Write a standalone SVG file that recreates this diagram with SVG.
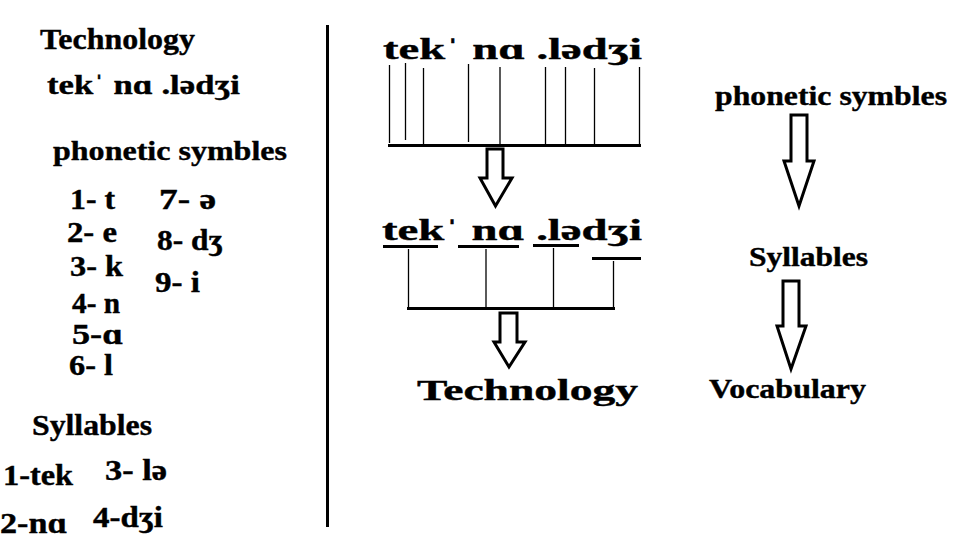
<svg xmlns="http://www.w3.org/2000/svg" width="956" height="556" viewBox="0 0 956 556" font-family="Liberation Serif, Times New Roman, Noto Serif, serif" font-weight="700">
<style>
text{fill:#000;stroke:#000;stroke-width:0.4;}
.t30{font-size:30px;}
.t28{font-size:28px;}
.t29{font-size:29px;}
.thin{stroke:#000;stroke-width:1.3;fill:none;}
.thick{stroke:#000;stroke-width:3;fill:none;}
.arrow{stroke:#000;stroke-width:3;fill:#fff;stroke-linejoin:miter;}
</style>
<rect width="956" height="556" fill="#fff"/>
<g id="left-panel">
<g id="left-title"><text class="t30" x="40" y="49" textLength="155" lengthAdjust="spacingAndGlyphs">Technology</text></g>
<g id="left-ipa"><text class="t28" x="47" y="94" textLength="193" lengthAdjust="spacingAndGlyphs">tekˈ nɑ .lədʒi</text></g>
<g id="left-phonetic"><text class="t28" x="53" y="160" textLength="234" lengthAdjust="spacingAndGlyphs">phonetic symbles</text></g>
<g id="left-list">
<text class="t29" x="70" y="209" textLength="45" lengthAdjust="spacingAndGlyphs">1- t</text>
<text class="t29" x="67" y="242" textLength="50" lengthAdjust="spacingAndGlyphs">2- e</text>
<text class="t29" x="70" y="276" textLength="53" lengthAdjust="spacingAndGlyphs">3- k</text>
<text class="t29" x="72" y="313" textLength="48" lengthAdjust="spacingAndGlyphs">4- n</text>
<text class="t29" x="72" y="344" textLength="51" lengthAdjust="spacingAndGlyphs">5-ɑ</text>
<text class="t29" x="69" y="375" textLength="44" lengthAdjust="spacingAndGlyphs">6- l</text>
<text class="t29" x="159" y="209" textLength="57" lengthAdjust="spacingAndGlyphs">7- ə</text>
<text class="t29" x="157" y="250" textLength="66" lengthAdjust="spacingAndGlyphs">8- dʒ</text>
<text class="t29" x="155" y="292" textLength="45" lengthAdjust="spacingAndGlyphs">9- i</text>
</g>
<g id="left-syllables"><text class="t30" x="32" y="435" textLength="120" lengthAdjust="spacingAndGlyphs">Syllables</text></g>
<g id="left-syllable-list">
<text class="t29" x="3" y="485" textLength="70" lengthAdjust="spacingAndGlyphs">1-tek</text>
<text class="t29" x="105" y="480" textLength="62" lengthAdjust="spacingAndGlyphs">3- lə</text>
<text class="t29" x="0" y="533" textLength="67" lengthAdjust="spacingAndGlyphs">2-nɑ</text>
<text class="t29" x="93" y="527" textLength="70" lengthAdjust="spacingAndGlyphs">4-dʒi</text>
</g>
</g>
<g id="divider"><line x1="327.5" y1="25" x2="327.5" y2="527" stroke="#000" stroke-width="3"/></g>
<g id="ipa-top"><text class="t30" x="383" y="59" textLength="259" lengthAdjust="spacingAndGlyphs">tekˈ nɑ .lədʒi</text></g>
<g id="ipa-syllables"><text class="t30" x="382" y="240" textLength="260" lengthAdjust="spacingAndGlyphs">tekˈ nɑ .lədʒi</text></g>
<g id="word"><text class="t30" x="417" y="400" textLength="221" lengthAdjust="spacingAndGlyphs">Technology</text></g>
<g id="flow-phonetic"><text class="t28" x="715" y="105" textLength="232" lengthAdjust="spacingAndGlyphs">phonetic symbles</text></g>
<g id="flow-syllables"><text class="t28" x="749" y="266" textLength="119" lengthAdjust="spacingAndGlyphs">Syllables</text></g>
<g id="flow-vocabulary"><text class="t28" x="709" y="398" textLength="157" lengthAdjust="spacingAndGlyphs">Vocabulary</text></g>
<g id="connectors">
<line class="thin" x1="389.5" y1="65" x2="389.5" y2="143"/>
<line class="thin" x1="405.5" y1="63" x2="405.5" y2="140"/>
<line class="thin" x1="423.5" y1="68" x2="423.5" y2="144"/>
<line class="thin" x1="468.5" y1="64" x2="468.5" y2="142"/>
<line class="thin" x1="500" y1="67" x2="500" y2="145"/>
<line class="thin" x1="545.5" y1="67" x2="545.5" y2="145"/>
<line class="thin" x1="565.5" y1="67" x2="565.5" y2="145"/>
<line class="thin" x1="594.5" y1="68" x2="594.5" y2="145"/>
<line class="thin" x1="639.5" y1="67" x2="639.5" y2="145"/>
<line class="thick" x1="388" y1="145.5" x2="641" y2="145.5"/>
<polygon class="arrow" points="487,149 503,149 503,178 512,178 495.5,206 480,178 487,178"/>
<line class="thick" x1="383" y1="246.5" x2="438" y2="246.5"/>
<line class="thick" x1="458" y1="246.5" x2="519" y2="246.5"/>
<line class="thick" x1="533" y1="245.5" x2="579" y2="245.5"/>
<line class="thick" x1="592" y1="258.5" x2="641" y2="258.5"/>
<line class="thin" x1="408.5" y1="249" x2="408.5" y2="308"/>
<line class="thin" x1="486" y1="249" x2="486" y2="308"/>
<line class="thin" x1="553.5" y1="248" x2="553.5" y2="308"/>
<line class="thin" x1="613.5" y1="261" x2="613.5" y2="308"/>
<line class="thick" x1="407" y1="308.5" x2="615" y2="308.5"/>
<polygon class="arrow" points="500,313 517,313 517,342 525,342 509,367 494,342 500,342"/>
<polygon class="arrow" points="791,115 807,115 807,161 814,161 799,206 784,161 791,161"/>
<polygon class="arrow" points="783,281 799,281 799,326 806,326 791,369 777,326 783,326"/>
</g>
</svg>
